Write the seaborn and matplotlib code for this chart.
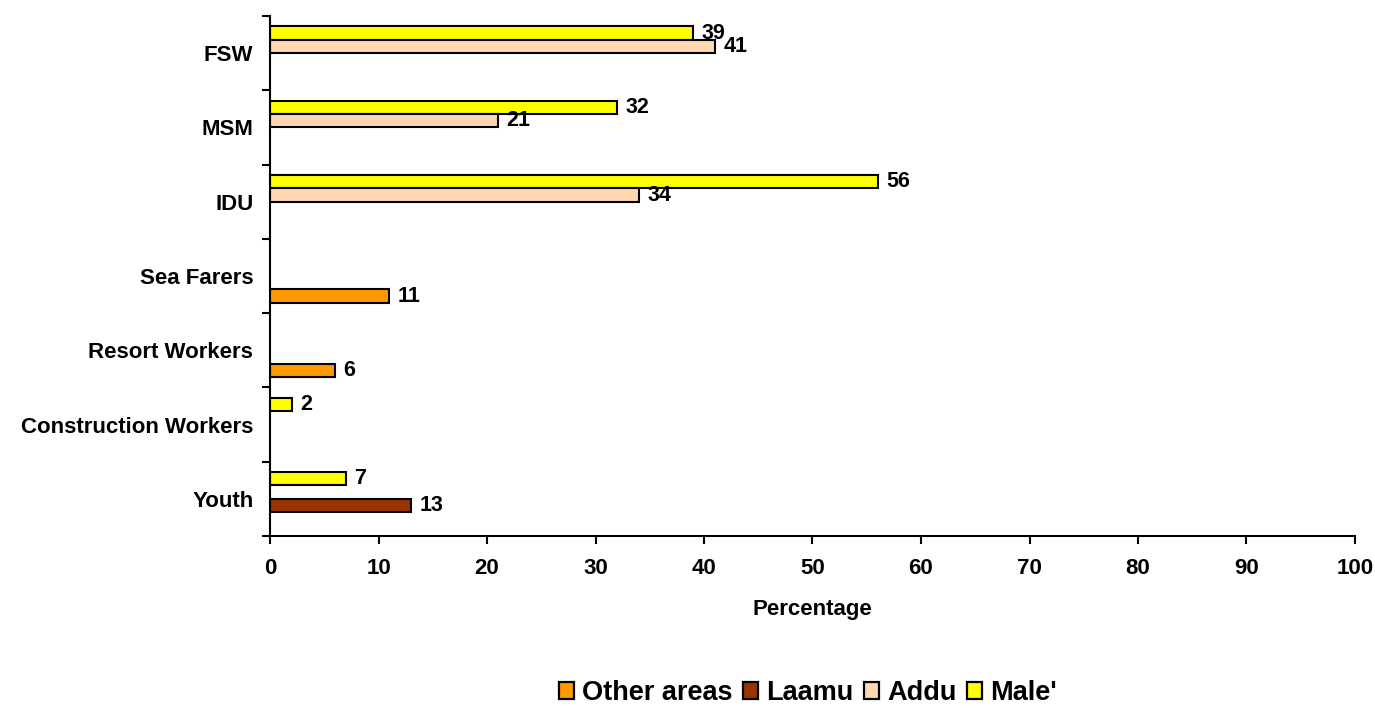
import matplotlib
matplotlib.use("Agg")
import matplotlib.pyplot as plt
from matplotlib.patches import Patch
import seaborn as sns
import pandas as pd
import numpy as np

categories = ["FSW", "MSM", "IDU", "Sea Farers", "Resort Workers", "Construction Workers", "Youth"]
series = ["Male'", "Addu", "Laamu", "Other areas"]
male = [39, 32, 56, None, None, 2, 7]
addu = [41, 21, 34, None, None, None, None]
laamu = [None, None, None, None, None, None, 13]
other = [None, None, None, 11, 6, None, None]
colors = {"Male'": "#FFFF00", "Addu": "#FFD8B2", "Laamu": "#993300", "Other areas": "#FF9900"}
legend_order = ["Other areas", "Laamu", "Addu", "Male'"]

rows = []
for s, vals in zip(series, [male, addu, laamu, other]):
    for c, v in zip(categories, vals):
        if v is not None:
            rows.append({"category": c, "series": s, "value": v})
df = pd.DataFrame(rows)

sns.set_theme(style="white")
plt.rcParams["font.family"] = ["Liberation Sans", "DejaVu Sans"]
plt.rcParams["font.weight"] = "bold"
for k in ["text.color", "axes.labelcolor", "xtick.color", "ytick.color"]:
    plt.rcParams[k] = "black"

fs = 16
fig = plt.figure(figsize=(13.75, 7.08), dpi=100)
ax = fig.add_axes([270/1375, 1-536/708, (1355-270)/1375, (536-16)/708])

sns.barplot(data=df, x="value", y="category", hue="series", order=categories,
            hue_order=series, palette=colors, orient="h", width=0.72,
            edgecolor="black", linewidth=1.5, ax=ax, legend=False, errorbar=None,
            saturation=1)

for cont in ax.containers:
    ax.bar_label(cont, fmt="%g", padding=6, fontsize=15.5, fontweight="bold", color="black")

ax.set_xlim(0, 100)
ax.set_ylim(len(categories) - 0.5, -0.5)
ax.set_xticks(np.arange(0, 101, 10))
ax.set_yticks(np.arange(len(categories)))
ax.set_yticklabels(categories)
ax.set_yticks(np.arange(-0.5, len(categories), 1), minor=True)
ax.tick_params(axis="y", which="major", length=0, pad=12, labelsize=fs)
ax.tick_params(axis="y", which="minor", length=6, width=1.5, direction="out", left=True, color="black")
ax.tick_params(axis="x", which="major", length=6, width=1.5, direction="out", bottom=True,
               pad=10, labelsize=fs, color="black")
for lbl in ax.get_xticklabels() + ax.get_yticklabels():
    lbl.set_fontweight("bold")
ax.set_ylabel("")
ax.set_xlabel("Percentage", fontsize=fs, fontweight="bold", labelpad=14)
for side in ["top", "right"]:
    ax.spines[side].set_visible(False)
for side in ["left", "bottom"]:
    ax.spines[side].set_color("black")
    ax.spines[side].set_linewidth(1.5)

handles = [Patch(facecolor=colors[s], edgecolor="black", linewidth=1.6, label=s) for s in legend_order]
fig.legend(handles=handles, loc="center", bbox_to_anchor=(808/1375, 1-693/708), ncol=4,
           frameon=False, handlelength=0.55, handleheight=0.55,
           handletextpad=0.3, columnspacing=0.4, prop={"weight": "bold", "size": 19.5})

fig.savefig("out.png", dpi=100)
